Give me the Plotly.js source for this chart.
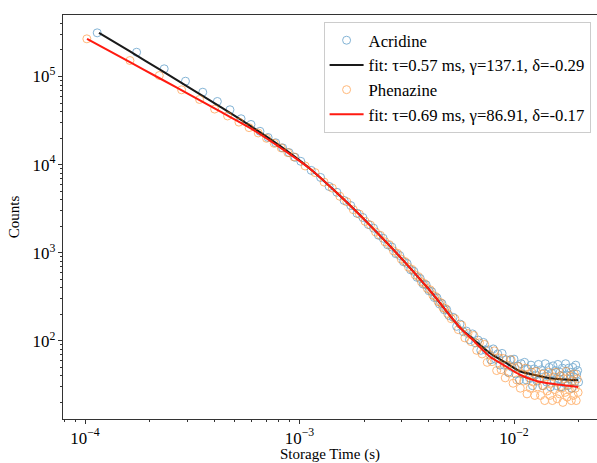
<!DOCTYPE html>
<html>
<head>
<meta charset="utf-8">
<script src="https://cdn.plot.ly/plotly-3.0.1.min.js"></script>
<style>html,body{margin:0;padding:0;background:#fff;}#chart{width:597px;height:463px;}</style>
</head>
<body>
<div id="chart"></div>
<script>
// ---- Data (storage time in ms, counts) ----
const timeAcridineMs = [0.114,0.174,0.234,0.294,0.354,0.414,0.474,0.534,0.594,0.654,0.714,0.774,0.834,0.894,0.954,
1.014,1.134,1.254,1.374,1.494,1.614,1.734,1.854,1.974,2.094,2.214,2.334,2.454,2.574,2.694,2.814,2.934,3.054,3.174,3.294,3.414,3.534,3.654,3.774,3.894,4.014,4.134,4.254,4.374,4.494,4.614,4.734,4.854,4.974,
5.2,5.4,5.6,5.8,6.0,6.2,6.4,6.6,6.8,7.0,7.2,7.4,7.6,7.8,8.0,8.2,8.4,8.6,8.8,9.0,9.2,9.4,9.6,9.8,10.0,10.2,10.4,10.6,10.8,11.0,
11.2,11.4,11.6,11.8,12.0,12.2,12.4,12.6,12.8,13.0,13.2,13.4,13.6,13.8,14.0,14.2,14.4,14.6,14.8,15.0,15.2,15.4,15.6,15.8,16.0,16.2,16.4,16.6,16.8,17.0,
17.2,17.4,17.6,17.8,18.0,18.2,18.4,18.6,18.8,19.0,19.2,19.4,19.6,19.8,20.0];
const countsAcridine = [313000,188600,122300,88450,66370,52070,41930,33140,28570,23900,20300,17700,15500,13700,12100,
10900,8600,7150,5650,4850,3920,3430,2800,2510,2090,1900,1580,1460,1230,1160,975,930,790,755,640,615,525,510,440,432,370,362,310,308,262,265,225,226,194,
185,146,155,127,129,103,120,95,102,78,96,78,79,61,81,62,71,53,72,53,61,44,61,50,62,42,52,36,55,42,
57,36,48,38,53,31,48,41,35,54,37,47,31,43,55,34,40,50,30,43,52,35,46,31,54,37,44,30,49,40,
33,55,41,31,49,37,44,29,50,39,34,53,42,46,34];

const timePhenazineMs = [0.102,0.162,0.222,0.282,0.342,0.402,0.462,0.522,0.582,0.642,0.702,0.762,0.822,0.882,0.942,
1.062,1.182,1.302,1.422,1.542,1.662,1.782,1.902,2.022,2.142,2.262,2.382,2.502,2.622,2.742,2.862,2.982,3.102,3.222,3.342,3.462,3.582,3.702,3.822,3.942,4.062,4.182,4.302,4.422,4.542,4.662,4.782,4.902,
5.1,5.3,5.5,5.7,5.9,6.1,6.3,6.5,6.7,6.9,7.1,7.3,7.5,7.7,7.9,8.1,8.3,8.5,8.7,8.9,9.1,9.3,9.5,9.7,9.9,10.1,10.3,10.5,10.7,10.9,
11.1,11.3,11.5,11.7,11.9,12.1,12.3,12.5,12.7,12.9,13.1,13.3,13.5,13.7,13.9,14.1,14.3,14.5,14.7,14.9,15.1,15.3,15.5,15.7,15.9,16.1,16.3,16.5,16.7,16.9,
17.1,17.3,17.5,17.7,17.9,18.1,18.3,18.5,18.7,18.9,19.1,19.3,19.5,19.7,19.9];
const countsPhenazine = [267600,151900,102600,70650,54850,42700,35660,30330,26280,22870,19870,17440,15460,13680,12230,
9650,8120,6330,5420,4370,3790,3080,2740,2270,2060,1720,1575,1330,1235,1050,985,845,795,684,648,560,536,466,447,392,380,330,319,279,272,238,233,204,
178,179,134,151,108,121,98,115,78,95,71,91,57,70,58,77,46,64,47,63,38,53,43,61,33,49,36,51,29,42,
35,49,25,42,29,44,34,24,45,30,37,24,42,31,21,39,27,44,24,33,21,39,28,44,22,35,25,40,29,20,
37,26,45,23,32,28,40,21,35,24,42,29,21,37,26];

// fitted curves (time in s)
const fitAcridineTime = [1.162e-4,1.621e-4,2.237e-4,3.087e-4,4.26e-4,5.878e-4,8.111e-4,1.119e-3,1.545e-3,2.132e-3,2.941e-3,4.059e-3,5.601e-3,6.5e-3,7.728e-3,9.0e-3,1.0665e-2,1.25e-2,1.472e-2,1.99e-2];
const fitAcridineCounts = [313000,192500,119400,73870,45460,27680,16300,8985,4423,2042,898.5,370.7,141.3,103,72.4,57.9,45.2,41,37.7,35.7];
const fitPhenazineTime = [1.022e-4,1.621e-4,2.237e-4,3.087e-4,4.26e-4,5.878e-4,8.111e-4,1.119e-3,1.545e-3,2.132e-3,2.941e-3,4.059e-3,5.601e-3,6.5e-3,7.728e-3,9.0e-3,1.0665e-2,1.25e-2,1.472e-2,1.99e-2];
const fitPhenazineCounts = [267600,145300,94910,61700,40100,26070,15670,8985,4423,2042,898.5,370.7,141.3,99.3,66.0,52.8,41.2,35.5,32.8,30.0];

const seriesNames = ['Acridine','fit: τ=0.57 ms, γ=137.1, δ=-0.29','Phenazine','fit: τ=0.69 ms, γ=86.91, δ=-0.17'];
const xTitle = 'Storage Time (s)';
const yTitle = 'Counts';

const msToS = a => a.map(v => v / 1000);

const traces = [
  {x: msToS(timeAcridineMs), y: countsAcridine, type:'scatter', mode:'markers', name: seriesNames[0],
   marker:{symbol:'circle-open', size:8, color:'#1f77b4', line:{width:1}}, opacity:0.55},
  {x: fitAcridineTime, y: fitAcridineCounts, type:'scatter', mode:'lines', name: seriesNames[1],
   line:{color:'#1a1a1a', width:2, shape:'spline', smoothing:0.8}},
  {x: msToS(timePhenazineMs), y: countsPhenazine, type:'scatter', mode:'markers', name: seriesNames[2],
   marker:{symbol:'circle-open', size:8, color:'#ff7f0e', line:{width:1}}, opacity:0.55},
  {x: fitPhenazineTime, y: fitPhenazineCounts, type:'scatter', mode:'lines', name: seriesNames[3],
   line:{color:'#ff1a10', width:2, shape:'spline', smoothing:0.8}}
];

const axisCommon = {
  type:'log', dtick:1, exponentformat:'power', showgrid:false, zeroline:false,
  showline:true, linecolor:'#333', linewidth:1, ticks:'outside', ticklen:4, tickcolor:'#333', tickwidth:1,
  minor:{ticks:'outside', ticklen:2, tickcolor:'#333', tickwidth:1, showgrid:false},
  tickfont:{size:13.5, color:'#000'}
};

const layout = {
  width:597, height:463, autosize:false,
  margin:{l:63, r:0, t:15, b:44},
  paper_bgcolor:'#fff', plot_bgcolor:'#fff',
  font:{family:'"Liberation Serif", "Times New Roman", serif', size:14, color:'#000'},
  showlegend:true,
  legend:{x:0.988, xanchor:'right', y:0.983, yanchor:'top', bgcolor:'rgba(255,255,255,0.85)',
    bordercolor:'#cccccc', borderwidth:1, font:{size:16.7, color:'#000'}, itemwidth:34},
  xaxis: Object.assign({}, axisCommon, {range:[-4.1026,-1.6131], mirror:true,
    title:{text:xTitle, font:{size:15}, standoff:7}}),
  yaxis: Object.assign({}, axisCommon, {range:[1.1129,5.698], mirror:false,
    title:{text:yTitle, font:{size:15}, standoff:9}})
};

Plotly.newPlot('chart', traces, layout, {displayModeBar:false, staticPlot:true});
</script>
</body>
</html>
